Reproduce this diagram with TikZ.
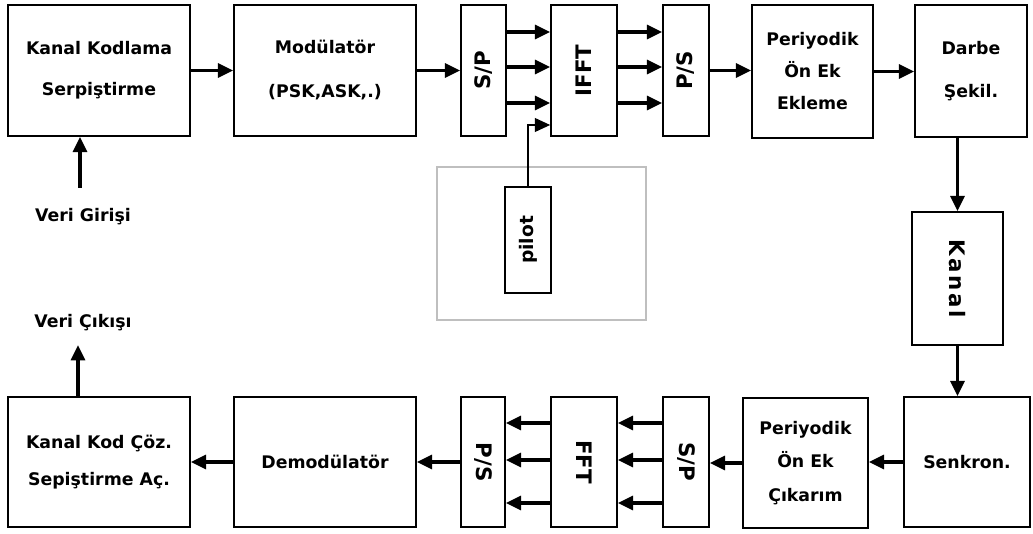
\documentclass[tikz,border=0pt]{standalone}
\usepackage{fontspec}
\setmainfont{DejaVu Sans}
\usepackage{graphicx}
\usetikzlibrary{arrows.meta}

\begin{document}
\begin{tikzpicture}[
  x=0.75pt, y=-0.75pt,
  blok/.style={rectangle, draw, line width=1.3pt, inner sep=0pt, align=center,
    font=\fontsize{13}{24}\selectfont\bfseries},
  dikblok/.style={blok, font=\fontsize{16}{19}\selectfont\bfseries},
  etiket/.style={font=\fontsize{13}{16}\selectfont\bfseries},
  ok/.style={-{Triangle[length=11.5pt,width=10.5pt]}, line width=2.4pt},
  inceok/.style={-{Triangle[length=11.5pt,width=10.5pt]}, line width=0.8pt}
]
  \useasboundingbox (0,0) rectangle (1033,534);

  % Verici
  \node[blok, minimum width=136.5pt, minimum height=98.25pt] (kod) at (99,70.5) {Kanal Kodlama\\[7pt]Serpiştirme};
  \node[blok, minimum width=136.5pt, minimum height=98.25pt] (mod) at (325,70.5) {Modülatör\\[9pt](PSK,ASK,.)};
  \node[dikblok, minimum width=33.75pt, minimum height=98.25pt] (sp) at (483.5,70.5) {\rotatebox{90}{S/P}};
  \node[dikblok, minimum width=49.5pt, minimum height=98.25pt] (ifft) at (584,70.5) {\rotatebox{90}{IFFT}};
  \node[dikblok, minimum width=34.5pt, minimum height=98.25pt] (ps) at (686,70.5) {\rotatebox{90}{P/S}};
  \node[blok, minimum width=90.75pt, minimum height=99.75pt] (cpekle) at (812.5,71.5) {Periyodik\\Ön Ek\\Ekleme};
  \node[blok, minimum width=84pt, minimum height=99pt] (darbe) at (971,71) {Darbe\\[8pt]Şekil.};

  % Kanal
  \node[dikblok, minimum width=68.25pt, minimum height=99.75pt] (kanal) at (957.5,278.5) {\rotatebox{-90}{\addfontfeature{LetterSpace=12}Kanal}};

  % Pilot
  \node[draw=black!25, line width=0.8pt, minimum width=156.75pt, minimum height=114.75pt] (cerceve) at (541.5,243.5) {};
  \node[blok, font=\fontsize{14}{17}\selectfont\bfseries, minimum width=34.5pt, minimum height=79.5pt] (pilot) at (528,240) {\rotatebox{90}{pilot}};

  % Alici
  \node[blok, minimum width=136.5pt, minimum height=97.5pt] (coz) at (99,462) {Kanal Kod Çöz.\\[4pt]Sepiştirme Aç.};
  \node[blok, minimum width=136.5pt, minimum height=97.5pt] (demod) at (325,462) {Demodülatör};
  \node[dikblok, minimum width=33pt, minimum height=97.5pt] (ps2) at (483,462) {\rotatebox{-90}{P/S}};
  \node[dikblok, minimum width=49.5pt, minimum height=97.5pt] (fft) at (584,462) {\rotatebox{-90}{FFT}};
  \node[dikblok, minimum width=34.5pt, minimum height=97.5pt] (sp2) at (686,462) {\rotatebox{-90}{S/P}};
  \node[blok, minimum width=93.75pt, minimum height=97.5pt] (cpcikar) at (805.5,463) {Periyodik\\[1pt]Ön Ek\\[1pt]Çıkarım};
  \node[blok, minimum width=94.5pt, minimum height=97.5pt] (senk) at (967,462) {Senkron.};

  % Giris ve cikis
  \node[etiket] (girdi) at (83,217) {Veri Girişi};
  \node[etiket] (cikti) at (83,323) {Veri Çıkışı};
  \coordinate (girdiuc) at (80,188);
  \coordinate (ciktiuc) at (78,345);

  % Oklar: verici
  \draw[ok] (girdiuc) -- (girdiuc |- kod.south);
  \draw[ok] (kod) -- (mod);
  \draw[ok] (mod) -- (sp);
  \draw[ok] (sp.east |- 0,32) -- (ifft.west |- 0,32);
  \draw[ok] (sp.east |- 0,67) -- (ifft.west |- 0,67);
  \draw[ok] (sp.east |- 0,103) -- (ifft.west |- 0,103);
  \draw[inceok] (pilot.north) |- (ifft.west |- 0,125);
  \draw[ok] (ifft.east |- 0,32) -- (ps.west |- 0,32);
  \draw[ok] (ifft.east |- 0,67) -- (ps.west |- 0,67);
  \draw[ok] (ifft.east |- 0,103) -- (ps.west |- 0,103);
  \draw[ok] (ps) -- (ps -| cpekle.west);
  \draw[ok] (cpekle) -- (cpekle -| darbe.west);
  \draw[ok] (darbe.south -| kanal) -- (kanal);

  % Oklar: alici
  \draw[ok] (kanal) -- (kanal |- senk.north);
  \draw[ok] (senk) -- (senk -| cpcikar.east);
  \draw[ok] (cpcikar) -- (cpcikar -| sp2.east);
  \draw[ok] (sp2.west |- 0,423) -- (fft.east |- 0,423);
  \draw[ok] (sp2.west |- 0,460) -- (fft.east |- 0,460);
  \draw[ok] (sp2.west |- 0,503) -- (fft.east |- 0,503);
  \draw[ok] (fft.west |- 0,423) -- (ps2.east |- 0,423);
  \draw[ok] (fft.west |- 0,460) -- (ps2.east |- 0,460);
  \draw[ok] (fft.west |- 0,503) -- (ps2.east |- 0,503);
  \draw[ok] (ps2) -- (demod);
  \draw[ok] (demod) -- (coz);
  \draw[ok] (ciktiuc |- coz.north) -- (ciktiuc);

\end{tikzpicture}
\end{document}
